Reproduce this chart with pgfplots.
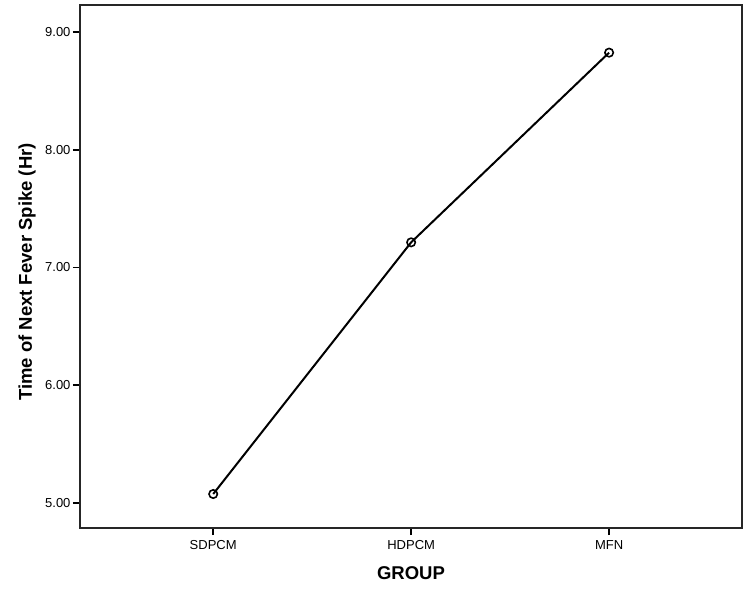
\documentclass[border=0pt]{standalone}
\usepackage{pgfplots}
\pgfplotsset{compat=1.18}
\usepackage{fontspec}
\setmainfont{Liberation Sans}
\begin{document}
\begin{tikzpicture}
\path[use as bounding box] (0,0) rectangle (750bp,600bp);
\begin{axis}[
    at={(80bp,72bp)},
    anchor=south west,
    scale only axis,
    width=661.7bp,
    height=523bp,
    xmin=-0.673, xmax=2.67,
    ymin=4.785, ymax=9.232,
    xtick={0,1,2},
    xticklabels={SDPCM,HDPCM,MFN},
    ytick={5,6,7,8,9},
    /pgf/number format/.cd, fixed, fixed zerofill, precision=2, assume math mode=true,
    /pgfplots/.cd,
    tick align=outside,
    tick pos=left,
    major tick length=7bp,
    tick style={line width=1.6bp, black},
    axis line style={line width=1.6bp, black!85},
    tick label style={font=\fontsize{13bp}{15bp}\selectfont, text=black},
    x tick label style={yshift=-2bp},
    y tick label style={xshift=1bp},
    xlabel={GROUP},
    ylabel={Time of Next Fever Spike (Hr)},
    label style={font=\fontsize{18.5bp}{21bp}\selectfont\bfseries},
    xlabel style={at={(axis description cs:0.5002,-0.0855)}, anchor=center},
    ylabel style={at={(axis description cs:-0.0801,0.4895)}, anchor=center},
    clip=false
]
\addplot[
    line width=2bp,
    black,
    mark=o,
    mark size=4.2bp,
    mark options={line width=1.6bp}
] coordinates {
    (0,5.074)
    (1,7.214)
    (2,8.827)
};
\end{axis}
\end{tikzpicture}
\end{document}
